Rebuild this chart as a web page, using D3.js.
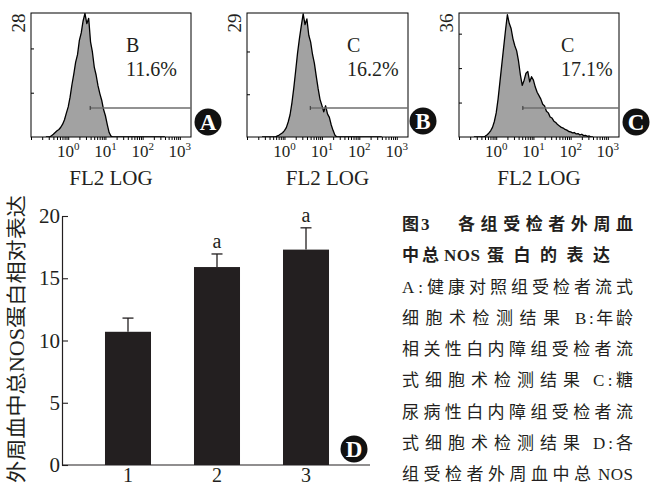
<!DOCTYPE html>
<html><head><meta charset="utf-8">
<script src="https://cdn.jsdelivr.net/npm/d3@7"></script>
<style>body{margin:0;background:#fff}svg{display:block}</style>
</head><body>
<svg id="c" width="650" height="485"></svg>
<script>
// ---------- flow cytometry histograms (FL2, log10 bin centres) ----------
const fl2LogBins = [-0.60,-0.55,-0.50,-0.45,-0.40,-0.35,-0.30,-0.25,-0.20,-0.15,-0.10,-0.05,
  0.00,0.05,0.10,0.15,0.20,0.25,0.30,0.35,0.40,0.45,0.50,0.55,0.60,0.65,0.70,0.75,0.80,0.85,0.90,0.95,
  1.00,1.05,1.10,1.15,1.20,1.25,1.30,1.35,1.40,1.45,1.50,1.55,1.60,1.65,1.70,1.75,1.80,1.85,1.90,1.95,
  2.00,2.05,2.10,2.15,2.20,2.25,2.30,2.35,2.40,2.45,2.50,2.55,2.60];
const histCountsA = [0,0,0,0.3,0.6,1.0,1.4,1.7,2.2,2.9,3.9,5.4,
  6.8,9.0,11.8,14.2,16.9,18.6,21.8,23.5,26.2,27.9,25.6,26.8,21.5,19.2,15.8,14.0,11.6,9.8,8.3,6.2,
  4.8,2.8,1.0,0.2,0,0,0,0,0,0,0,0,0,0,0,0,0,0,0,0,
  0,0,0,0,0,0,0,0,0,0,0,0,0];
const histCountsB = [0,0,0,0,0,0,0,0,0.2,0.4,0.7,1.0,
  1.5,2.2,3.5,5.2,8.0,11.5,15.5,19.6,23.0,26.0,28.8,26.3,27.6,23.8,22.2,19.3,17.2,14.2,11.3,8.8,
  7.4,5.9,7.3,5.4,4.6,2.8,1.5,0.4,0,0,0,0,0,0,0,0,0,0,0,0,
  0,0,0,0,0,0,0,0,0,0,0,0,0];
const histCountsC = [0,0,0,0,0,0,0.2,0.6,1.1,1.8,2.8,4.5,
  7.0,11.0,16.0,21.0,26.0,31.0,35.5,33.0,31.5,28.5,26.5,25.0,22.0,18.0,15.0,16.5,18.5,19.0,16.0,17.5,
  16.5,14.5,13.0,12.0,11.0,9.5,9.0,7.5,7.0,5.8,5.5,4.6,4.2,3.6,3.2,2.8,2.6,2.2,2.0,1.6,
  1.5,1.2,1.3,0.9,1.0,0.6,0.8,0.4,0.5,0.2,0.3,0,0];
const histMax = [28, 29, 36];
const histYTicks = [10, 20, 30];
const histRegion = ["B", "C", "C"];
const histPercent = ["11.6%", "16.2%", "17.1%"];
const gateStart = [3.9, 4.9, 5.2];
const panelBadges = ["A", "B", "C"];
const decadeTicks = [0, 1, 2, 3];
const fl2Label = "FL2 LOG";

// ---------- bar chart ----------
const groups = ["1", "2", "3"];
const nosMean = [10.7, 15.9, 17.3];
const nosSD = [1.1, 1.05, 1.75];
const sigMarks = ["", "a", "a"];
const barYTicks = [0, 5, 10, 15, 20];
const barYTitle = ["外周血中总", "NOS", "蛋白相对表达"];

// ---------- caption ----------
const captionText = [
  ["图", "3", "各组受检者外周血"],
  ["中总", "NOS", "蛋白的表达"],
  ["A:健康对照组受检者流式"],
  ["细胞术检测结果", "B:年龄"],
  ["相关性白内障组受检者流"],
  ["式细胞术检测结果", "C:糖"],
  ["尿病性白内障组受检者流"],
  ["式细胞术检测结果", "D:各"],
  ["组受检者外周血中总", "NOS"]
];

// ================= drawing =================
const svg = d3.select("#c");
const INK = "#231f20";
const SERIF = "'Liberation Serif','Times New Roman',serif";
const CJK = "'Liberation Serif','Noto Sans CJK SC',serif";

const histData = [histCountsA, histCountsB, histCountsC];
const boxes = [{l:31, r:191}, {l:247, r:408}, {l:459, r:619}];
const boxTop = 13, boxBot = 137;
const labelPos = [{x:126}, {x:347}, {x:561}];
const badgePos = [{x:208, y:122}, {x:423, y:121}, {x:636, y:122}];

boxes.forEach((b, k) => {
  const g = svg.append("g");
  const x = d3.scaleLog().domain([Math.pow(10, -1), Math.pow(10, 3.3)]).range([b.l, b.r]);
  const y = d3.scaleLinear().domain([0, histMax[k]]).range([boxBot, boxTop]);
  const pts = fl2LogBins.map((v, i) => ({v: Math.pow(10, v), c: histData[k][i]}));
  const clipId = "clip" + k;
  svg.append("clipPath").attr("id", clipId).append("rect")
    .attr("x", b.l).attr("y", boxTop).attr("width", b.r - b.l).attr("height", boxBot - boxTop);
  const area = d3.area().x(d => x(d.v)).y0(boxBot).y1(d => y(d.c));
  const line = d3.line().x(d => x(d.v)).y(d => y(d.c));
  g.append("path").datum(pts).attr("clip-path", `url(#${clipId})`)
    .attr("d", area).attr("fill", "#a2a2a2");
  g.append("path").datum(pts).attr("clip-path", `url(#${clipId})`)
    .attr("d", line).attr("fill", "none").attr("stroke", "#000").attr("stroke-width", 1.3)
    .attr("stroke-linejoin", "round");
  // box
  g.append("rect").attr("x", b.l).attr("y", boxTop).attr("width", b.r - b.l).attr("height", boxBot - boxTop)
    .attr("fill", "none").attr("stroke", "#000").attr("stroke-width", 1);
  // bottom log ticks
  const minor = [];
  for (let e = -1; e <= 3; e++) for (let m = 1; m <= 9; m++) {
    const val = m * Math.pow(10, e);
    if (val >= x.domain()[0] && val <= x.domain()[1]) minor.push(val);
  }
  g.append("g").attr("transform", `translate(0,${boxBot})`)
    .call(d3.axisBottom(x).tickValues(minor).tickSizeInner(3).tickSizeOuter(0).tickFormat(""))
    .call(s => s.select(".domain").remove())
    .call(s => s.selectAll("line").attr("stroke", "#000"));
  // decade labels
  decadeTicks.forEach(e => {
    const t = g.append("text").attr("x", x(Math.pow(10, e))).attr("y", 157)
      .attr("text-anchor", "middle").attr("font-family", SERIF).attr("font-size", 17).attr("fill", INK);
    t.append("tspan").text("10");
    t.append("tspan").attr("dy", -7).attr("font-size", 11).text(e);
  });
  // y ticks (inward)
  g.append("g").attr("transform", `translate(${b.l},0)`)
    .call(d3.axisLeft(y).tickValues(histYTicks.filter(t => t < histMax[k])).tickSizeInner(-3).tickSizeOuter(0).tickFormat(""))
    .call(s => s.select(".domain").remove())
    .call(s => s.selectAll("line").attr("stroke", "#000"));
  // max label
  g.append("text").attr("transform", `translate(${b.l - 6},${23}) rotate(-90)`)
    .attr("text-anchor", "middle").attr("font-family", SERIF).attr("font-size", 19).attr("fill", INK)
    .text(histMax[k]);
  // gate marker
  const gy = boxBot - 0.234 * (boxBot - boxTop);
  g.append("line").attr("x1", x(gateStart[k])).attr("x2", b.r).attr("y1", gy).attr("y2", gy)
    .attr("stroke", "#6e6e6e").attr("stroke-width", 1.6);
  g.append("line").attr("x1", x(gateStart[k])).attr("x2", x(gateStart[k])).attr("y1", gy - 2).attr("y2", gy + 2)
    .attr("stroke", "#333").attr("stroke-width", 1);
  // region label
  g.append("text").attr("x", labelPos[k].x).attr("y", 52).attr("font-family", SERIF).attr("font-size", 20)
    .attr("fill", INK).text(histRegion[k]);
  g.append("text").attr("x", labelPos[k].x).attr("y", 76).attr("font-family", SERIF).attr("font-size", 20)
    .attr("fill", INK).text(histPercent[k]);
  // axis title
  g.append("text").attr("x", (b.l + b.r) / 2).attr("y", 185).attr("text-anchor", "middle")
    .attr("font-family", SERIF).attr("font-size", 21).attr("fill", INK).text(fl2Label);
  drawBadge(badgePos[k].x, badgePos[k].y, panelBadges[k]);
});

function drawBadge(cx, cy, letter) {
  svg.append("circle").attr("cx", cx).attr("cy", cy).attr("r", 13.5).attr("fill", "#111");
  svg.append("text").attr("x", cx).attr("y", cy + 8).attr("text-anchor", "middle")
    .attr("font-family", SERIF).attr("font-weight", "bold").attr("font-size", 23).attr("fill", "#fff").text(letter);
}

// ---------- bar chart ----------
const by = d3.scaleLinear().domain([0, 20]).range([465, 216]);
const bx = d3.scaleBand().domain(groups).range([62, 372]).padding(0.483);
const bg = svg.append("g");
bg.selectAll("rect.bar").data(groups).join("rect").attr("class", "bar")
  .attr("x", d => bx(d)).attr("width", bx.bandwidth())
  .attr("y", (d, i) => by(nosMean[i])).attr("height", (d, i) => by(0) - by(nosMean[i]))
  .attr("fill", INK);
groups.forEach((d, i) => {
  const cx = bx(d) + bx.bandwidth() / 2;
  const top = by(nosMean[i] + nosSD[i]);
  bg.append("line").attr("x1", cx).attr("x2", cx).attr("y1", by(nosMean[i])).attr("y2", top)
    .attr("stroke", INK).attr("stroke-width", 1.3);
  bg.append("line").attr("x1", cx - 5.5).attr("x2", cx + 5.5).attr("y1", top).attr("y2", top)
    .attr("stroke", INK).attr("stroke-width", 1.3);
  if (sigMarks[i]) bg.append("text").attr("x", cx).attr("y", top - 6).attr("text-anchor", "middle")
    .attr("font-family", SERIF).attr("font-size", 20).attr("fill", INK).text(sigMarks[i]);
});
bg.append("g").attr("transform", "translate(62,0)")
  .call(d3.axisLeft(by).tickValues(barYTicks).tickSizeInner(-6).tickSizeOuter(0).tickPadding(2))
  .call(s => s.select(".domain").attr("stroke", INK).attr("stroke-width", 1.2))
  .call(s => s.selectAll("line").attr("stroke", INK).attr("stroke-width", 1.1))
  .call(s => s.selectAll("text").attr("font-family", SERIF).attr("font-size", 21).attr("fill", INK));
bg.append("g").attr("transform", "translate(0,465)")
  .call(d3.axisBottom(bx).tickSize(0).tickSizeOuter(0))
  .call(s => s.select(".domain").attr("stroke", INK).attr("stroke-width", 1.2).attr("d", "M62,0H370"))
  .call(s => s.selectAll("text").attr("y", 17).attr("dy", null)
    .attr("font-family", SERIF).attr("font-size", 20).attr("fill", INK));
// y title
const yt = bg.append("text").attr("transform", "translate(24,339) rotate(-90)")
  .attr("text-anchor", "middle").attr("font-size", 20).attr("fill", INK)
  .attr("font-family", CJK).attr("textLength", 288).attr("lengthAdjust", "spacingAndGlyphs");
barYTitle.forEach(s => yt.append("tspan").text(s));
drawBadge(354, 449, "D");

// ---------- caption ----------
const capLayout = [
  [{x:402}, {x:421}, {x:458, w:175}],
  [{x:402, w:37}, {x:444, w:36}, {x:487, w:123}],
  [{x:402, w:231}],
  [{x:402, w:158}, {x:575, w:58}],
  [{x:402, w:231}],
  [{x:402, w:178}, {x:593, w:40}],
  [{x:402, w:231}],
  [{x:402, w:178}, {x:593, w:40}],
  [{x:402, w:189}, {x:598, w:35}]
];
captionText.forEach((segs, li) => {
  segs.forEach((s, si) => {
    const L = capLayout[li][si];
    const t = svg.append("text").attr("x", L.x).attr("y", 230 + 31.25 * li)
      .attr("font-family", CJK).attr("font-size", 17).attr("fill", INK)
      .attr("font-weight", li < 2 ? "bold" : "normal").text(s);
    if (L.w) t.attr("textLength", L.w).attr("lengthAdjust", "spacing");
  });
});
</script>
</body></html>
